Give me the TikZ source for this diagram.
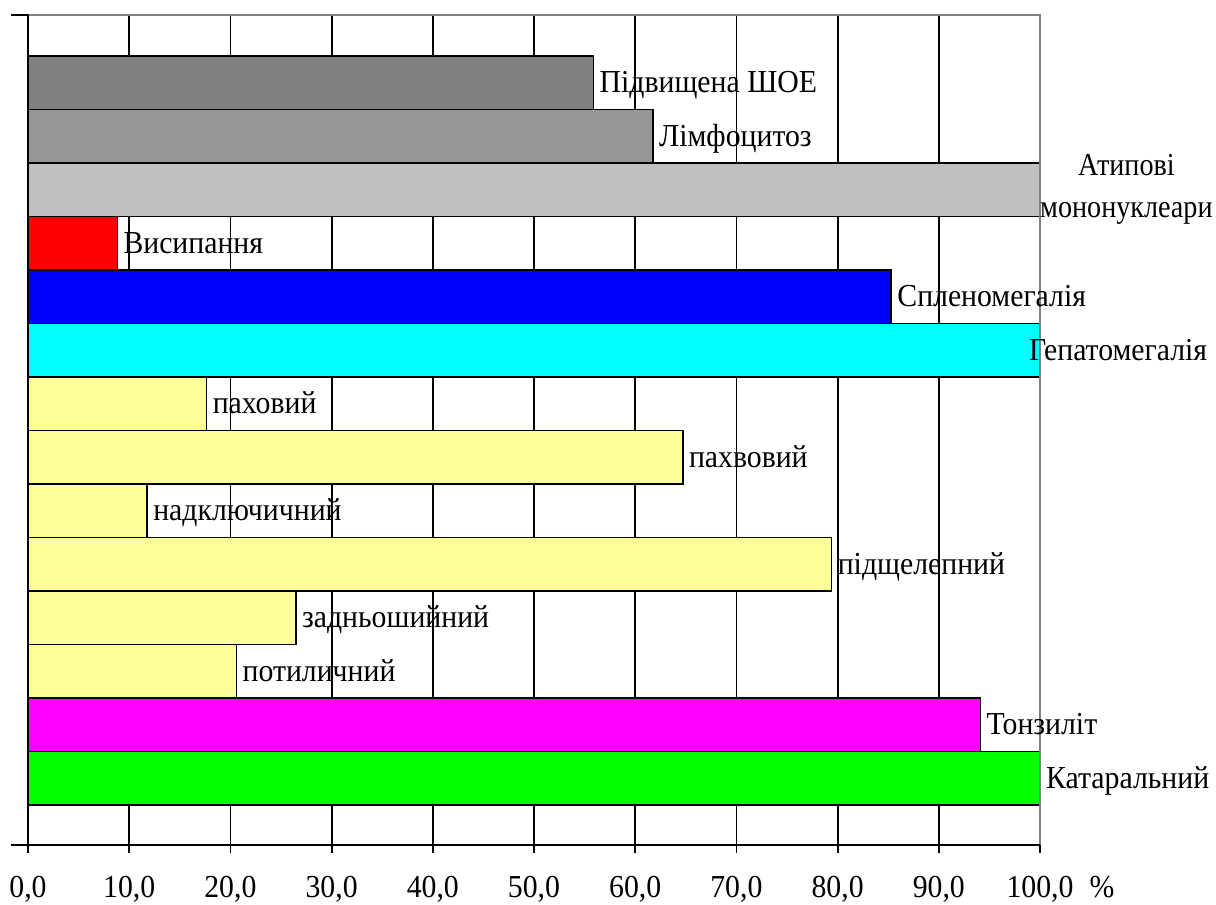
\documentclass[tikz,border=0pt]{standalone}
\usepackage{fontspec}
\setmainfont{Liberation Serif}[FakeStretch=0.93]
\newfontfamily\atypfont{Liberation Serif}[FakeStretch=0.88]
\usetikzlibrary{positioning}
\definecolor{barShoe}{HTML}{808080}
\definecolor{barLimf}{HTML}{969696}
\definecolor{barAtyp}{HTML}{C0C0C0}
\definecolor{barRash}{HTML}{FF0000}
\definecolor{barSpleen}{HTML}{0000FF}
\definecolor{barHepat}{HTML}{00FFFF}
\definecolor{barNode}{HTML}{FFFF99}
\definecolor{barTons}{HTML}{FF00FF}
\definecolor{barCat}{HTML}{00FF00}
\definecolor{axisGray}{HTML}{808080}

\begin{document}
\begin{tikzpicture}[x=1pt, y=-1pt,
	font=\fontsize{32}{42}\selectfont,
	bar/.style={draw, line width=1.6pt, outer sep=0pt, inner sep=0pt,
		minimum height=53.5pt, anchor=north west},
	lbl/.style={inner sep=0pt, text height=20pt, text depth=0pt},
	ticklbl/.style={inner sep=0pt, text height=21pt, text depth=0pt},
	gridline/.style={line width=1.8pt}]
	\useasboundingbox (0,0) rectangle (1216,905);
	% grid lines
	\draw[gridline] (129.2,15) -- (129.2,845)
	(230.4,15) -- (230.4,845)
	(331.6,15) -- (331.6,845)
	(432.8,15) -- (432.8,845)
	(534,15) -- (534,845)
	(635.2,15) -- (635.2,845)
	(736.4,15) -- (736.4,845)
	(837.6,15) -- (837.6,845)
	(938.8,15) -- (938.8,845);
	% draw bar nodes
	\node[bar,
	fill=barShoe,
	minimum width=565.5pt] (bar1) at (28,56) {};
	\node[bar,
	fill=barLimf,
	minimum width=625pt] (bar2) at (bar1.south west) {};
	\node[bar,
	fill=barAtyp,
	minimum width=1012pt] (bar3) at (bar2.south west) {};
	\node[bar,
	fill=barRash,
	minimum width=89.3pt] (bar4) at (bar3.south west) {};
	\node[bar,
	fill=barSpleen,
	minimum width=863.2pt] (bar5) at (bar4.south west) {};
	\node[bar,
	fill=barHepat,
	minimum width=1012pt] (bar6) at (bar5.south west) {};
	\node[bar,
	fill=barNode,
	minimum width=178.6pt] (bar7) at (bar6.south west) {};
	\node[bar,
	fill=barNode,
	minimum width=654.8pt] (bar8) at (bar7.south west) {};
	\node[bar,
	fill=barNode,
	minimum width=119.1pt] (bar9) at (bar8.south west) {};
	\node[bar,
	fill=barNode,
	minimum width=803.6pt] (bar10) at (bar9.south west) {};
	\node[bar,
	fill=barNode,
	minimum width=267.9pt] (bar11) at (bar10.south west) {};
	\node[bar,
	fill=barNode,
	minimum width=208.4pt] (bar12) at (bar11.south west) {};
	\node[bar,
	fill=barTons,
	minimum width=952.5pt] (bar13) at (bar12.south west) {};
	\node[bar,
	fill=barCat,
	minimum width=1012pt] (bar14) at (bar13.south west) {};
	% frame and axes
	\draw[axisGray, line width=1.6pt] (28,15) -- (1040,15) -- (1040,845);
	\draw[line width=1.8pt] (11,15) -- (28,15) -- (28,853)
	(11,845) -- (1040,845);
	\draw[line width=1.8pt] (129.2,845) -- (129.2,853)
	(230.4,845) -- (230.4,853)
	(331.6,845) -- (331.6,853)
	(432.8,845) -- (432.8,853)
	(534,845) -- (534,853)
	(635.2,845) -- (635.2,853)
	(736.4,845) -- (736.4,853)
	(837.6,845) -- (837.6,853)
	(938.8,845) -- (938.8,853)
	(1040,845) -- (1040,853);
	% bar labels
	\node[lbl, right=6pt of bar1] (lbl1) {Підвищена ШОЕ};
	\node[lbl, right=6pt of bar2] (lbl2) {Лімфоцитоз};
	\node[inner sep=0pt, align=center, font=\atypfont\fontsize{32}{42}\selectfont,
	right=0pt of bar3] (lbl3) {Атипові\\мононуклеари};
	\node[lbl, right=6pt of bar4] (lbl4) {Висипання};
	\node[lbl, right=6pt of bar5] (lbl5) {Спленомегалія};
	\node[lbl, right=-11pt of bar6] (lbl6) {Гепатомегалія};
	\node[lbl, right=6pt of bar7] (lbl7) {паховий};
	\node[lbl, right=6pt of bar8] (lbl8) {пахвовий};
	\node[lbl, right=6pt of bar9] (lbl9) {надключичний};
	\node[lbl, right=6pt of bar10] (lbl10) {підщелепний};
	\node[lbl, right=6pt of bar11] (lbl11) {задньошийний};
	\node[lbl, right=6pt of bar12] (lbl12) {потиличний};
	\node[lbl, right=6pt of bar13] (lbl13) {Тонзиліт};
	\node[lbl, right=6pt of bar14] (lbl14) {Катаральний};
	% axis labels
	\node[ticklbl] (tick0) at (28,887) {0,0};
	\node[ticklbl] (tick1) at (129.2,887) {10,0};
	\node[ticklbl] (tick2) at (230.4,887) {20,0};
	\node[ticklbl] (tick3) at (331.6,887) {30,0};
	\node[ticklbl] (tick4) at (432.8,887) {40,0};
	\node[ticklbl] (tick5) at (534,887) {50,0};
	\node[ticklbl] (tick6) at (635.2,887) {60,0};
	\node[ticklbl] (tick7) at (736.4,887) {70,0};
	\node[ticklbl] (tick8) at (837.6,887) {80,0};
	\node[ticklbl] (tick9) at (938.8,887) {90,0};
	\node[ticklbl] (tick10) at (1040,887) {100,0};
	\node[ticklbl] (unit) at (1102,887) {\%};
\end{tikzpicture}
\end{document}
